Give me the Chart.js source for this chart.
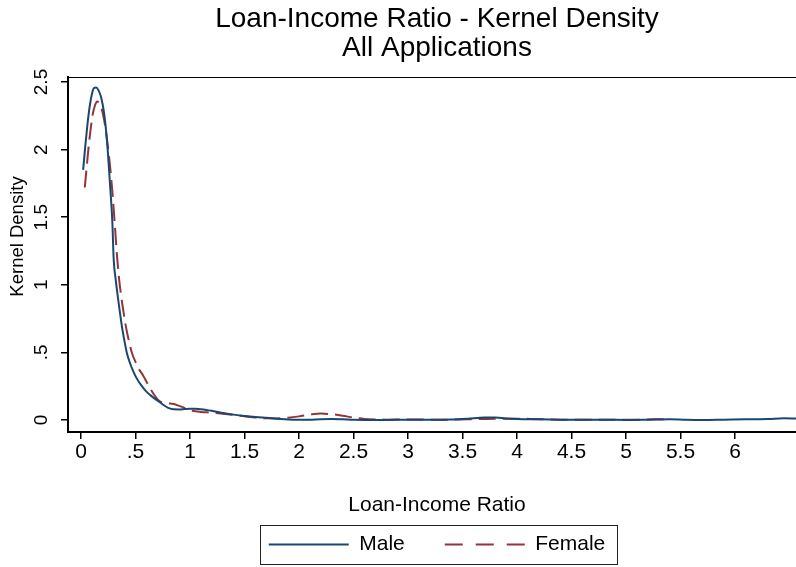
<!DOCTYPE html>
<html>
<head>
<meta charset="utf-8">
<title>Loan-Income Ratio - Kernel Density</title>
<script src="https://cdn.jsdelivr.net/npm/chart.js@4.4.1/dist/chart.umd.min.js"></script>
<style>
	html, body { margin: 0; padding: 0; background: #fff; overflow: hidden; }
	canvas { display: block; }
</style>
</head>
<body>
<canvas id="kdensity" width="806" height="567"></canvas>
<script>
// density estimates
const maleRatio = [
	0.02, 0.04, 0.06, 0.08, 0.10, 0.12, 0.14, 0.16, 0.18, 0.20,
	0.22, 0.245, 0.265, 0.288, 0.30, 0.32, 0.34, 0.36, 0.38, 0.40,
	0.42, 0.45, 0.48, 0.51, 0.55, 0.60, 0.65, 0.70, 0.75, 0.80,
	0.85, 0.90, 0.95, 1.00, 1.05, 1.10, 1.15, 1.20, 1.30, 1.40,
	1.50, 1.60, 1.70, 1.80, 1.90, 2.00, 2.10, 2.20, 2.30, 2.40,
	2.50, 2.60, 2.80, 3.00, 3.20, 3.40, 3.55, 3.70, 3.80, 3.90,
	4.00, 4.20, 4.40, 4.60, 4.80, 5.00, 5.20, 5.40, 5.55, 5.70,
	5.90, 6.10, 6.30, 6.45, 6.60, 6.70,
];
const maleDensity = [
	1.85, 2.03, 2.19, 2.32, 2.41, 2.455, 2.46, 2.44, 2.40, 2.33,
	2.22, 2.00, 1.76, 1.46, 1.19, 1.03, 0.90, 0.78, 0.67, 0.58,
	0.50, 0.42, 0.36, 0.31, 0.26, 0.21, 0.175, 0.145, 0.115, 0.09,
	0.079, 0.078, 0.081, 0.084, 0.083, 0.080, 0.075, 0.068, 0.052, 0.040,
	0.030, 0.022, 0.016, 0.010, 0.004, 0.002, 0.003, 0.006, 0.007, 0.005,
	0.002, 0.001, 0.001, 0.002, 0.002, 0.004, 0.010, 0.018, 0.018, 0.012,
	0.008, 0.005, 0.003, 0.002, 0.002, 0.001, 0.003, 0.006, 0.002, 0.000,
	0.003, 0.006, 0.008, 0.013, 0.010, 0.008,
];
const femaleRatio = [
	0.035, 0.05, 0.07, 0.09, 0.11, 0.13, 0.15, 0.17, 0.19, 0.21,
	0.23, 0.25, 0.27, 0.29, 0.31, 0.33, 0.35, 0.37, 0.39, 0.41,
	0.43, 0.45, 0.47, 0.50, 0.53, 0.57, 0.61, 0.66, 0.72, 0.78,
	0.85, 0.90, 0.95, 1.00, 1.05, 1.10, 1.20, 1.30, 1.40, 1.50,
	1.60, 1.70, 1.80, 1.90, 2.00, 2.10, 2.20, 2.30, 2.40, 2.50,
	2.60, 2.70, 2.80, 3.00, 3.20, 3.40, 3.60, 3.80, 4.00, 4.20,
	4.40, 4.60, 4.80, 5.00, 5.20, 5.30, 5.40,
];
const femaleDensity = [
	1.72, 1.85, 2.02, 2.16, 2.27, 2.33, 2.355, 2.34, 2.30, 2.23,
	2.13, 2.00, 1.85, 1.67, 1.45, 1.22, 1.04, 0.91, 0.80, 0.70,
	0.62, 0.55, 0.49, 0.43, 0.38, 0.33, 0.27, 0.20, 0.14, 0.125,
	0.118, 0.105, 0.090, 0.075, 0.065, 0.060, 0.055, 0.047, 0.038, 0.028,
	0.018, 0.013, 0.012, 0.017, 0.027, 0.040, 0.048, 0.043, 0.032, 0.018,
	0.008, 0.004, 0.003, 0.004, 0.003, 0.003, 0.006, 0.010, 0.010, 0.006,
	0.003, 0.002, 0.002, 0.002, 0.004, 0.006, 0.007,
];

const xTicks = [ 0, 0.5, 1, 1.5, 2, 2.5, 3, 3.5, 4, 4.5, 5, 5.5, 6 ];
const xTickLabels = [ '0', '.5', '1', '1.5', '2', '2.5', '3', '3.5', '4', '4.5', '5', '5.5', '6' ];
const yTicks = [ 0, 0.5, 1, 1.5, 2, 2.5 ];
const yTickLabels = [ '0', '.5', '1', '1.5', '2', '2.5' ];

const FONT = "'Liberation Sans', Arial, Helvetica, sans-serif";
const NAVY = '#1a476f';
const MAROON = '#90353b';

Chart.defaults.font.family = FONT;
Chart.defaults.color = '#000';

const toPoints = ( xs, ys ) => xs.map( ( x, i ) => ( { x, y: ys[ i ] } ) );

// plot region outline and the framed legend, as Stata draws them
const frames = {
	id: 'frames',
	afterDraw( chart ) {
		const { ctx, chartArea, legend } = chart;
		ctx.save();
		ctx.strokeStyle = '#000';
		ctx.lineWidth = 1;
		ctx.strokeRect(
			chartArea.left + 0.5,
			chartArea.top + 0.5,
			chartArea.right - chartArea.left - 1,
			chartArea.bottom - chartArea.top
		);
		const boxes = legend.legendHitBoxes;
		if ( boxes && boxes.length ) {
			const first = boxes[ 0 ];
			const last = boxes[ boxes.length - 1 ];
			const left = Math.round( first.left - 9 );
			const right = Math.round( last.left + last.width + 12 );
			const top = Math.round( first.top - 9 );
			const bottom = Math.round( first.top + first.height + 9 );
			ctx.strokeStyle = '#222';
			ctx.strokeRect( left + 0.5, top + 0.5, right - left, bottom - top );
		}
		ctx.restore();
	},
};

new Chart( document.getElementById( 'kdensity' ), {
	type: 'line',
	data: {
		datasets: [
			{
				label: 'Male',
				data: toPoints( maleRatio, maleDensity ),
				borderColor: NAVY,
				backgroundColor: NAVY,
				borderWidth: 2,
				pointRadius: 0,
				fill: false,
				cubicInterpolationMode: 'monotone',
			},
			{
				label: 'Female',
				data: toPoints( femaleRatio, femaleDensity ),
				borderColor: MAROON,
				backgroundColor: MAROON,
				borderWidth: 2,
				borderDash: [ 17, 7 ],
				pointRadius: 0,
				fill: false,
				cubicInterpolationMode: 'monotone',
			},
		],
	},
	options: {
		responsive: false,
		animation: false,
		events: [],
		layout: { padding: { top: 0, left: 0, right: 0, bottom: 2 } },
		scales: {
			x: {
				type: 'linear',
				min: -0.119,
				max: 6.651,
				afterBuildTicks: ( scale ) => {
					scale.ticks = xTicks.map( ( v ) => ( { value: v } ) );
				},
				afterFit: ( scale ) => {
					scale.height = 62;
				},
				border: { display: true, color: '#000', width: 2 },
				grid: {
					drawOnChartArea: false,
					drawTicks: true,
					tickLength: 7,
					color: '#000',
					lineWidth: 1.5,
				},
				ticks: {
					padding: 1,
					maxRotation: 0,
					autoSkip: false,
					font: { size: 21 },
					callback: ( v, i ) => xTickLabels[ i ],
				},
				title: {
					display: true,
					text: 'Loan-Income Ratio',
					font: { size: 21 },
					padding: { top: 0, bottom: -24 },
				},
			},
			y: {
				type: 'linear',
				min: -0.0885,
				max: 2.537,
				afterBuildTicks: ( scale ) => {
					scale.ticks = yTicks.map( ( v ) => ( { value: v } ) );
				},
				afterFit: ( scale ) => {
					scale.width = 68;
				},
				border: { display: true, color: '#000', width: 2 },
				grid: {
					drawOnChartArea: false,
					drawTicks: true,
					tickLength: 7,
					color: '#000',
					lineWidth: 1.5,
				},
				ticks: {
					padding: 6,
					minRotation: 90,
					maxRotation: 90,
					crossAlign: 'center',
					autoSkip: false,
					font: { size: 19 },
					callback: ( v, i ) => yTickLabels[ i ],
				},
				title: {
					display: true,
					// leading spaces lift the centred label, as in the original
					text: '       Kernel Density',
					font: { size: 18.5 },
					padding: { top: 7, bottom: 0 },
				},
			},
		},
		plugins: {
			title: {
				display: true,
				fullSize: false,
				text: [ 'Loan-Income Ratio - Kernel Density', 'All Applications' ],
				color: '#000',
				font: { size: 28, weight: 'normal', lineHeight: '29px' },
				padding: { top: 4.5, bottom: 14.5 },
			},
			legend: {
				position: 'bottom',
				fullSize: false,
				labels: {
					usePointStyle: true,
					pointStyle: 'line',
					pointStyleWidth: 80,
					padding: 40,
					color: '#000',
					font: { size: 21 },
					// point-style keys lose the dataset dash, so set the key strokes here
					generateLabels: ( chart ) =>
						Chart.defaults.plugins.legend.labels
							.generateLabels( chart )
							.map( ( item ) => {
								const ds = chart.data.datasets[ item.datasetIndex ];
								return {
									...item,
									strokeStyle: ds.borderColor,
									lineWidth: 2,
									lineDash: ds.borderDash ? [ 18, 13 ] : [],
								};
							} ),
				},
			},
			tooltip: { enabled: false },
		},
	},
	plugins: [ frames ],
} );
</script>
</body>
</html>
